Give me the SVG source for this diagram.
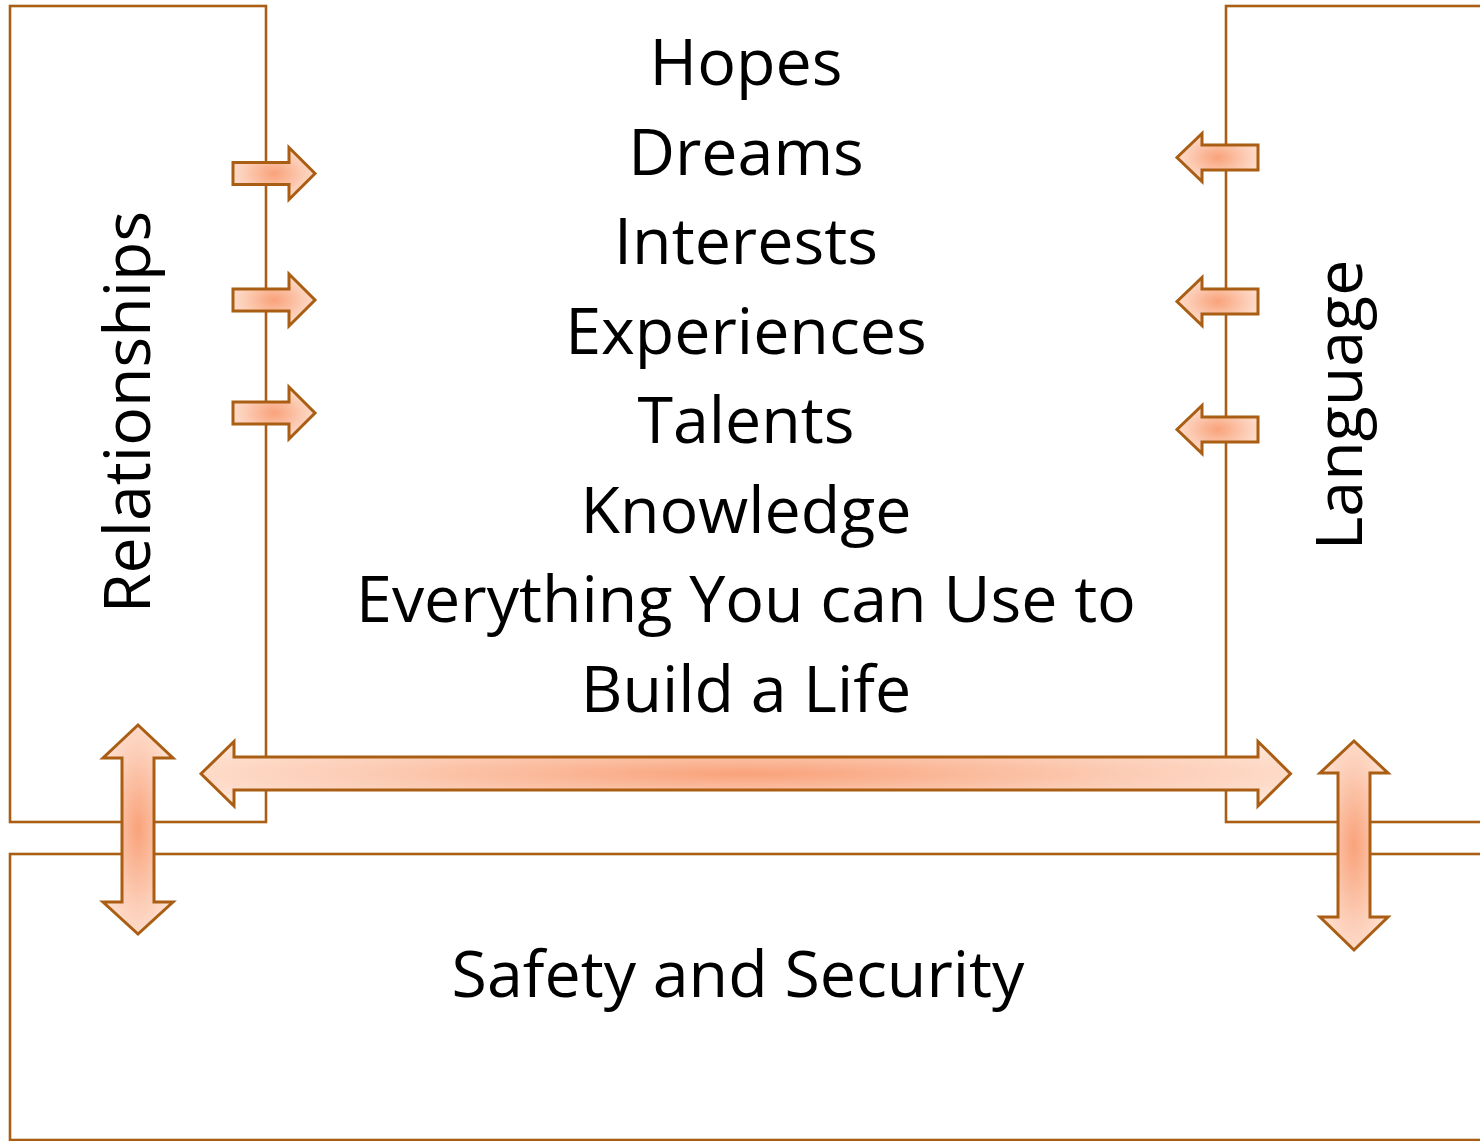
<svg xmlns="http://www.w3.org/2000/svg" width="1480" height="1141" viewBox="0 0 1480 1141">
<style>
.frame{fill:none;stroke:#A95E14;stroke-width:2.6}
.arr{fill:url(#g);stroke:#A95E14;stroke-width:3;stroke-linejoin:miter}
.t{font-family:"Open Sans","Liberation Sans",sans-serif;font-size:64.5px;fill:#000;text-anchor:middle}
</style>
<defs>
<radialGradient id="g" cx="50%" cy="50%" r="60%">
<stop offset="0" stop-color="#F9A27A"/>
<stop offset="0.6" stop-color="#FCCDB6"/>
<stop offset="1" stop-color="#FFE4D6"/>
</radialGradient>
</defs>
<g id="relationships">
<rect class="frame" x="10" y="6" width="256" height="816"/>
<text class="t" transform="translate(150,412) rotate(-90)">Relationships</text>
</g>
<g id="language">
<rect class="frame" x="1226" y="6" width="300" height="816"/>
<text class="t" transform="translate(1362,405) rotate(-90)">Language</text>
</g>
<g id="safety">
<rect class="frame" x="10" y="854" width="1520" height="286"/>
<text class="t" x="738" y="997">Safety and Security</text>
</g>
<g id="center">
<text class="t" x="746" y="85">Hopes</text>
<text class="t" x="746" y="175">Dreams</text>
<text class="t" x="746" y="264">Interests</text>
<text class="t" x="746" y="354">Experiences</text>
<text class="t" x="746" y="443">Talents</text>
<text class="t" x="746" y="533">Knowledge</text>
<text class="t" x="746" y="622">Everything You can Use to</text>
<text class="t" x="746" y="712">Build a Life</text>
</g>
<g id="connectors">
<polygon class="arr" points="233,162.5 289,162.5 289,147.5 315,173.5 289,199.5 289,184.5 233,184.5"/>
<polygon class="arr" points="233,289 289,289 289,274 315,300 289,326 289,311 233,311"/>
<polygon class="arr" points="233,402 289,402 289,387 315,413 289,439 289,424 233,424"/>
<polygon class="arr" points="1258,145 1202,145 1202,133.5 1177,157.5 1202,181.5 1202,170 1258,170"/>
<polygon class="arr" points="1258,289 1202,289 1202,277.5 1177,301.5 1202,325.5 1202,314 1258,314"/>
<polygon class="arr" points="1258,417 1202,417 1202,405.5 1177,429.5 1202,453.5 1202,442 1258,442"/>
<polygon class="arr" points="201,773.8 234,741.5 234,757 1258,757 1258,741.5 1290.5,773.8 1258,806 1258,790 234,790 234,806"/>
<polygon class="arr" points="138,725 173,758 154,758 154,902 173,902 138,934 103,902 122,902 122,758 103,758"/>
<polygon class="arr" points="1354,741 1388,773 1370,773 1370,917 1388,917 1354,950 1320,917 1338,917 1338,773 1320,773"/>
</g>
</svg>
